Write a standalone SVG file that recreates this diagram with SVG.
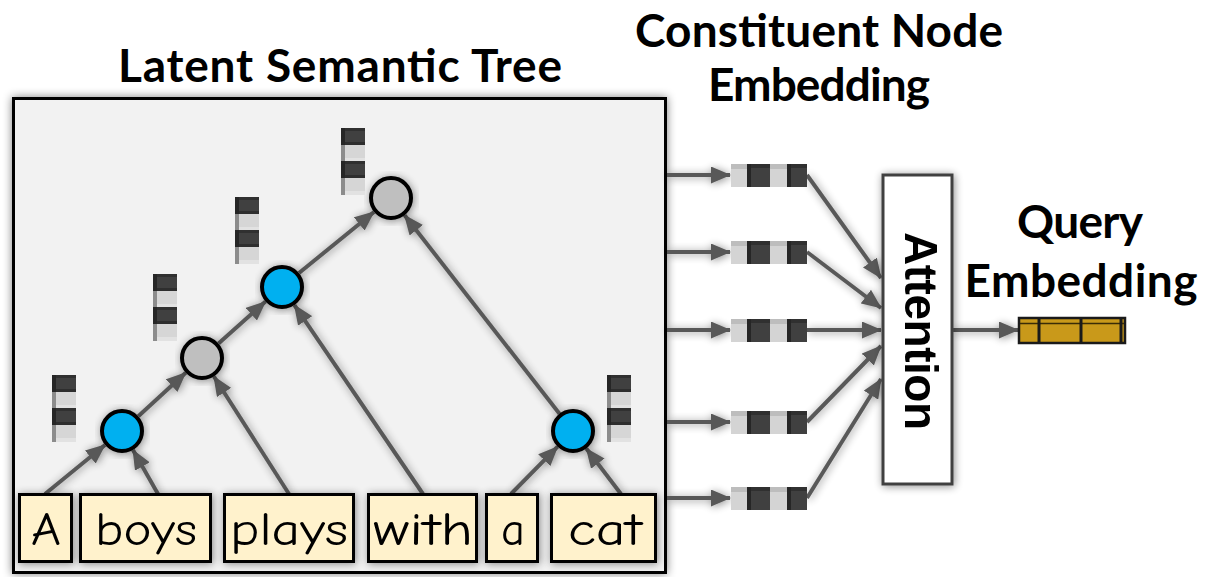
<svg xmlns="http://www.w3.org/2000/svg" xmlns:xlink="http://www.w3.org/1999/xlink" width="1205" height="577" viewBox="0 0 1205 577">
  <style>
    .title { font-family: Lato, "Liberation Sans", sans-serif; font-weight: 700; font-size: 46px; fill: #000; text-anchor: middle; }
    .word-box { fill: #fff2cc; stroke: #000; stroke-width: 3; }
    .word { font-family: "Comic Sans MS", "Comic Neue", "DejaVu Sans", sans-serif; font-size: 46px; fill: #000; text-anchor: middle; }
    .blue { fill: #00b0f0; stroke: #000; stroke-width: 4; }
    .grey { fill: #bfbfbf; stroke: #000; stroke-width: 4; }
    .edge { stroke: #595959; stroke-width: 4; fill: none; marker-end: url(#head); }
    .attn { font-family: "Liberation Sans", Arial, sans-serif; font-weight: 700; font-size: 46px; fill: #000; text-anchor: middle; }
  </style>
  <defs>
    <marker id="head" markerUnits="userSpaceOnUse" markerWidth="20" markerHeight="17" viewBox="0 0 20 17" refX="19" refY="8.5" orient="auto">
      <path d="M0,0 L20,8.5 L0,17 z" fill="#595959"/>
    </marker>
    <filter id="soft" x="-20%" y="-20%" width="140%" height="140%">
      <feGaussianBlur in="SourceAlpha" stdDeviation="4"/>
      <feOffset dx="1" dy="1" result="b"/>
      <feComponentTransfer><feFuncA type="linear" slope="0.45"/></feComponentTransfer>
      <feMerge><feMergeNode/><feMergeNode in="SourceGraphic"/></feMerge>
    </filter>
    <filter id="frame" x="-5%" y="-5%" width="110%" height="110%">
      <feGaussianBlur in="SourceAlpha" stdDeviation="5"/>
      <feComponentTransfer><feFuncA type="linear" slope="0.5"/></feComponentTransfer>
      <feMerge><feMergeNode/><feMergeNode in="SourceGraphic"/></feMerge>
    </filter>
    <!-- vertical 4-cell embedding bar, 24 x 67 -->
    <g id="vbar">
      <rect x="0" y="0" width="24" height="17" fill="#404040"/>
      <rect x="0" y="0" width="24" height="3" fill="#303030"/>
      <rect x="0" y="14" width="24" height="3" fill="#2e2e2e"/>
      <rect x="0" y="0" width="4" height="17" fill="#262626"/>
      <rect x="0" y="17" width="24" height="16" fill="#d6d6d6"/>
      <rect x="0" y="30" width="24" height="3" fill="#e2e2e2"/>
      <rect x="0" y="17" width="4" height="16" fill="#8c8c8c"/>
      <rect x="0" y="33" width="24" height="17" fill="#404040"/>
      <rect x="0" y="33" width="24" height="3" fill="#303030"/>
      <rect x="0" y="47" width="24" height="3" fill="#2e2e2e"/>
      <rect x="0" y="33" width="4" height="17" fill="#262626"/>
      <rect x="0" y="50" width="24" height="17" fill="#d6d6d6"/>
      <rect x="0" y="63" width="24" height="4" fill="#e2e2e2"/>
      <rect x="0" y="50" width="4" height="17" fill="#8c8c8c"/>
    </g>
    <!-- horizontal 4-cell embedding bar, 76 x 23 -->
    <g id="hbar">
      <rect x="0" y="0" width="16" height="23" fill="#d4d4d4"/>
      <rect x="0" y="0" width="16" height="5" fill="#bdbdbd"/>
      <rect x="16" y="0" width="23" height="23" fill="#404040"/>
      <rect x="16" y="0" width="23" height="4" fill="#303030"/>
      <rect x="16" y="0" width="4" height="23" fill="#262626"/>
      <rect x="39" y="0" width="17" height="23" fill="#d4d4d4"/>
      <rect x="39" y="0" width="17" height="5" fill="#bdbdbd"/>
      <rect x="56" y="0" width="20" height="23" fill="#404040"/>
      <rect x="56" y="0" width="20" height="4" fill="#303030"/>
      <rect x="56" y="0" width="4" height="23" fill="#262626"/>
    </g>
  </defs>

  <rect width="1205" height="577" fill="#ffffff"/>

  <!-- tree panel -->
  <g id="tree-panel" filter="url(#frame)">
    <rect x="13.5" y="98.5" width="652" height="474" fill="#f2f2f2" stroke="#000" stroke-width="3"/>
  </g>

  <!-- titles -->
  <g id="title-tree"><text class="title" x="340" y="82" textLength="444">Latent Semantic Tree</text></g>
  <g id="title-constituent">
    <text class="title" x="819" y="47" textLength="368">Constituent Node</text>
    <text class="title" x="819" y="101" textLength="222">Embedding</text>
  </g>
  <g id="title-query">
    <text class="title" x="1080" y="238" textLength="126">Query</text>
    <text class="title" x="1081" y="297" textLength="233">Embedding</text>
  </g>

  <!-- connectors -->
  <g id="connectors" filter="url(#soft)">
    <line class="edge" x1="45" y1="494" x2="105" y2="445"/>
    <line class="edge" x1="158" y1="494" x2="133" y2="450"/>
    <line class="edge" x1="138.3" y1="416.2" x2="185.7" y2="372.8"/>
    <line class="edge" x1="289" y1="494" x2="213.9" y2="376.5"/>
    <line class="edge" x1="218.5" y1="343.4" x2="265.5" y2="301.6"/>
    <line class="edge" x1="423" y1="494" x2="294.4" y2="305.2"/>
    <line class="edge" x1="299" y1="273" x2="374" y2="212"/>
    <line class="edge" x1="559.5" y1="413.7" x2="404.6" y2="215.3"/>
    <line class="edge" x1="511" y1="494" x2="557.6" y2="446.7"/>
    <line class="edge" x1="621" y1="494" x2="586.3" y2="448.5"/>

    <line class="edge" x1="667" y1="175" x2="730" y2="175"/>
    <line class="edge" x1="667" y1="252" x2="730" y2="252"/>
    <line class="edge" x1="667" y1="330" x2="730" y2="330"/>
    <line class="edge" x1="667" y1="422" x2="730" y2="422"/>
    <line class="edge" x1="667" y1="498" x2="730" y2="498"/>

    <line class="edge" x1="807" y1="175" x2="881" y2="278"/>
    <line class="edge" x1="807" y1="252" x2="881" y2="308"/>
    <line class="edge" x1="807" y1="330" x2="881" y2="330"/>
    <line class="edge" x1="807" y1="422" x2="881" y2="346"/>
    <line class="edge" x1="807" y1="498" x2="881" y2="379"/>

    <line class="edge" x1="953" y1="330" x2="1018" y2="330"/>
  </g>

  <!-- words -->
  <g id="word-A" filter="url(#soft)">
    <rect class="word-box" x="19.5" y="494.5" width="52" height="67"/>
    <text class="word" x="46" y="545" textLength="30" lengthAdjust="spacingAndGlyphs">A</text>
  </g>
  <g id="word-boys" filter="url(#soft)">
    <rect class="word-box" x="80.5" y="494.5" width="130" height="67"/>
    <text class="word" x="146" y="545" textLength="102" lengthAdjust="spacingAndGlyphs">boys</text>
  </g>
  <g id="word-plays" filter="url(#soft)">
    <rect class="word-box" x="224.5" y="494.5" width="129" height="67"/>
    <text class="word" x="289" y="545" textLength="118" lengthAdjust="spacingAndGlyphs">plays</text>
  </g>
  <g id="word-with" filter="url(#soft)">
    <rect class="word-box" x="368.5" y="494.5" width="108" height="67"/>
    <text class="word" x="423" y="545" textLength="100" lengthAdjust="spacingAndGlyphs">with</text>
  </g>
  <g id="word-a" filter="url(#soft)">
    <rect class="word-box" x="486.5" y="494.5" width="51" height="67"/>
    <text class="word" x="513" y="545" textLength="24" lengthAdjust="spacingAndGlyphs">a</text>
  </g>
  <g id="word-cat" filter="url(#soft)">
    <rect class="word-box" x="551.5" y="494.5" width="104" height="67"/>
    <text class="word" x="605" y="545" textLength="74" lengthAdjust="spacingAndGlyphs">cat</text>
  </g>

  <!-- tree nodes -->
  <g id="node-a-boys" filter="url(#soft)"><circle class="blue" cx="122" cy="431" r="20"/></g>
  <g id="node-a-boys-plays" filter="url(#soft)"><circle class="grey" cx="202" cy="358" r="20"/></g>
  <g id="node-with" filter="url(#soft)"><circle class="blue" cx="282" cy="287" r="20"/></g>
  <g id="node-root" filter="url(#soft)"><circle class="grey" cx="391" cy="198" r="20"/></g>
  <g id="node-a-cat" filter="url(#soft)"><circle class="blue" cx="573" cy="431" r="20"/></g>

  <!-- node embeddings -->
  <g id="emb-1"><use xlink:href="#vbar" href="#vbar" x="52" y="375"/></g>
  <g id="emb-2"><use xlink:href="#vbar" href="#vbar" x="153" y="274"/></g>
  <g id="emb-3"><use xlink:href="#vbar" href="#vbar" x="235" y="197"/></g>
  <g id="emb-4"><use xlink:href="#vbar" href="#vbar" x="341" y="128"/></g>
  <g id="emb-5"><use xlink:href="#vbar" href="#vbar" x="607" y="375"/></g>

  <!-- constituent node embeddings -->
  <g id="cemb-1"><use xlink:href="#hbar" href="#hbar" x="731" y="164"/></g>
  <g id="cemb-2"><use xlink:href="#hbar" href="#hbar" x="731" y="241"/></g>
  <g id="cemb-3"><use xlink:href="#hbar" href="#hbar" x="731" y="319"/></g>
  <g id="cemb-4"><use xlink:href="#hbar" href="#hbar" x="731" y="411"/></g>
  <g id="cemb-5"><use xlink:href="#hbar" href="#hbar" x="731" y="487"/></g>

  <!-- attention -->
  <g id="attention" filter="url(#soft)">
    <rect x="883" y="175" width="69" height="309" fill="#ffffff" stroke="#404040" stroke-width="3"/>
    <text class="attn" transform="translate(905,331) rotate(90)" x="0" y="0" textLength="198">Attention</text>
  </g>

  <!-- query embedding -->
  <g id="query-embedding">
    <rect x="1019" y="318" width="106" height="25" fill="#c9991a" stroke="#1a1a1a" stroke-width="2.5"/>
    <line x1="1020" y1="323.5" x2="1124" y2="323.5" stroke="#3a2c06" stroke-width="1.5"/>
    <line x1="1039" y1="318" x2="1039" y2="343" stroke="#1a1a1a" stroke-width="3"/>
    <line x1="1081" y1="318" x2="1081" y2="343" stroke="#1a1a1a" stroke-width="3"/>
    <line x1="1121" y1="318" x2="1121" y2="343" stroke="#1a1a1a" stroke-width="3"/>
  </g>
</svg>
